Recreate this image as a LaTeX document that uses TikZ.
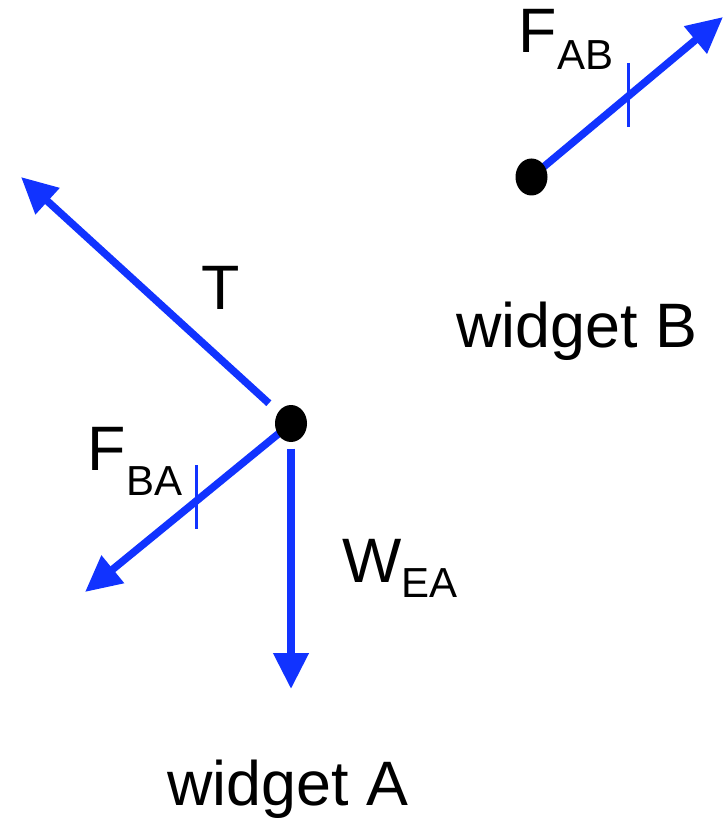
\documentclass[tikz,border=0pt]{standalone}
\usepackage{fontspec}
\setmainfont{Liberation Sans}
\usetikzlibrary{arrows.meta,shapes.geometric,backgrounds}
\definecolor{forceblue}{RGB}{17,51,255}
\newcommand{\subtxt}[2][8.5pt]{\raisebox{-#1}{\fontsize{21}{22}\selectfont #2}}

\begin{document}
\begin{tikzpicture}[
    x=0.5pt, y=-0.5pt,
    every node/.style={font=\fontsize{31.4}{36}\selectfont},
    dot/.style={ellipse, fill=black, inner sep=0pt, minimum width=16pt, minimum height=18.5pt},
    force/.style={-{Triangle[length=18pt, width=17pt]}, forceblue, line width=3.75pt},
    tickmark/.style={forceblue, line width=1.5pt},
    lbl/.style={anchor=base, inner sep=0pt},
]
\useasboundingbox (0,0) rectangle (726,818);
\node[dot] (dotA) at (291,423.5) {};
\node[dot] (dotB) at (531.5,177) {};
\coordinate (tipT) at (21,177);
\coordinate (tipBA) at (85,592);
\coordinate (tipEA) at (291,689);
\coordinate (tipAB) at (723,17);
\coordinate (tickBA) at (196,497);
\coordinate (tickAB) at (628,95);
\begin{pgfonlayer}{background}
\draw[force, shorten <=15pt] (dotA.center) -- (tipT);
\draw[force, shorten <=4pt] (dotA.center) -- (tipBA);
\draw[force, shorten <=12.5pt] (dotA.center) -- (tipEA);
\draw[force, shorten <=5pt] (dotB.center) -- (tipAB);
\end{pgfonlayer}
\draw[tickmark] ([yshift=16pt]tickBA) -- ([yshift=-16pt]tickBA);
\draw[tickmark] ([yshift=16pt]tickAB) -- ([yshift=-16pt]tickAB);
\node[lbl] (labelT) at (221,309) {T};
\node[lbl] (labelBA) at (135,470) {F\subtxt[12.5pt]{BA}};
\node[lbl] (labelEA) at (400,582) {W\subtxt[7.5pt]{EA}};
\node[lbl] (labelAB) at (566,53) {F\subtxt{AB}};
\node[lbl] (nameB) at (577,347) {widget B};
\node[lbl] (nameA) at (288,805) {widget A};
\end{tikzpicture}
\end{document}
